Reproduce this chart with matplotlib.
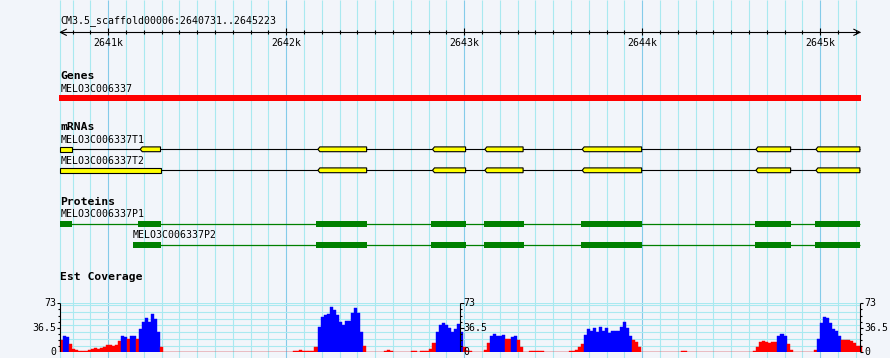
import matplotlib
matplotlib.use("Agg")
import matplotlib.pyplot as plt
from matplotlib.patches import Rectangle, Polygon

# ---- data -------------------------------------------------------------
ref_name = "CM3.5_scaffold00006"
start, end = 2640731, 2645223
major_ticks = [2641000, 2642000, 2643000, 2644000, 2645000]
major_labels = ["2641k", "2642k", "2643k", "2644k", "2645k"]

gene_names = ["MELO3C006337"]
gene_spans = [(2640731, 2645223)]

mrna_names = ["MELO3C006337T1", "MELO3C006337T2"]
mrna_exons = [
    [(2640731, 2640795), (2641180, 2641294), (2642178, 2642452), (2642822, 2643008),
     (2643116, 2643331), (2643663, 2643997), (2644639, 2644834), (2644976, 2645223)],
    [(2640731, 2641294), (2642178, 2642452), (2642822, 2643008),
     (2643116, 2643331), (2643663, 2643997), (2644639, 2644834), (2644976, 2645223)],
]

protein_names = ["MELO3C006337P1", "MELO3C006337P2"]
protein_cds = [
    [(2640731, 2640794), (2641167, 2641296), (2642167, 2642454), (2642813, 2643010),
     (2643111, 2643334), (2643656, 2643999), (2644634, 2644836), (2644971, 2645223)],
    [(2641139, 2641296), (2642167, 2642454), (2642813, 2643010),
     (2643111, 2643334), (2643656, 2643999), (2644634, 2644836), (2644971, 2645223)],
]

# est coverage, 17 bp bins from start
cov_bin = 17
cov_max = 73
cov = [
    18, 25, 23, 13, 5.5, 4, 1.5, 1.5, 1.5, 3, 5.5, 6, 5.5, 7, 8, 11, 10.5, 10, 11, 16.5,
    25, 23, 19.5, 25, 24, 20, 34, 45, 51, 45, 57, 49, 30, 8,
    0, 0, 0, 0, 0, 0, 0, 0, 0, 0, 0, 0, 0, 0, 0, 0, 0, 0, 0, 0, 0, 0, 0, 0, 0, 0,
    0, 0, 0, 0, 0, 0, 0, 0, 0, 0, 0, 0, 0, 0, 0, 0, 0,
    2, 2, 3.5, 2, 2, 1.5, 2, 8,
    38, 52, 55, 57, 68, 63, 56, 45, 41, 46, 47, 58, 66, 58, 30, 10, 1,
    0, 0, 0, 0, 0, 2, 3.5, 2, 0, 0, 0, 0, 0, 0, 1.5, 1.5, 0, 1.5, 1.5, 1.5, 5, 14,
    30, 40, 43, 40, 36, 30, 35, 42, 30, 8, 2, 2, 0, 0, 0, 0,
    3, 14, 24, 28, 24, 24, 26, 20, 20, 23, 25, 19, 8, 0, 0,
    1.5, 1.5, 1.5, 1.5, 1.5, 0, 0, 0, 0, 0, 0, 0, 0,
    1.5, 2, 4, 8, 12, 26, 34, 32, 36, 30, 37, 32, 36, 29, 31, 32, 31, 38, 45, 36, 25,
    19, 16, 8,
    0, 0, 0, 0, 0, 0, 0, 0, 0, 0, 0, 0, 0, 1.5, 1.5,
    0, 0, 0, 0, 0, 0, 0, 0, 0, 0, 0, 0, 0, 0, 0, 0, 0, 0, 0, 0, 0, 0,
    2, 8, 15, 17, 15, 14, 15, 16, 24, 27, 25, 12, 3,
    0, 0, 0, 0, 0, 0, 0,
    4, 20, 44, 52, 51, 44, 34, 31, 25, 19, 19, 18, 17, 14, 10, 10,
]
blue_bins = ([1, 2, 20, 21, 23, 24] + list(range(26, 33)) + list(range(85, 100))
             + list(range(124, 133)) + list(range(142, 147)) + [149, 150]
             + list(range(173, 189)) + [237, 238, 239] + list(range(250, 258)))
cov_ticks = [0, 36.5, 73]

# ---- layout / style -----------------------------------------------------
W, H = 890, 358
PX = 0.178                      # pixels per bp
xmin = start - 60.3 / PX
xmax = xmin + W / PX
bg = "#f2f5fa"
grid_minor = "#a9e9f0"
grid_major = "#84cbe9"
mono = "DejaVu Sans Mono"


def bp(px):
    return px / PX


fig = plt.figure(figsize=(W / 100, H / 100), dpi=100)
fig.patch.set_facecolor(bg)
ax = fig.add_axes([0, 0, 1, 1])
ax.set_xlim(xmin, xmax)
ax.set_ylim(H, 0)
ax.axis("off")

# vertical grid
ax.vlines([start], 0, H, color=grid_minor, lw=0.8, zorder=0)
for g in range(2640800, end, 100):
    ax.vlines(g, 0, H, color=grid_major if g % 1000 == 0 else grid_minor, lw=0.8, zorder=0)

# ruler
ax.text(start, 21, f"{ref_name}:{start}..{end}", family=mono, size=7.1, va="center")
ax.hlines(32.3, start, end, color="k", lw=0.8)
ax.plot([start + bp(6), start, start + bp(6)], [29.3, 32.3, 35.3], color="k", lw=0.8)
ax.plot([end - bp(6), end, end - bp(6)], [29.3, 32.3, 35.3], color="k", lw=0.8)
for t in range(2640800, end, 100):
    if t % 1000 == 0:
        ax.vlines(t, 28.3, 35.3, color="k", lw=0.8)
    else:
        ax.vlines(t, 30.3, 34.3, color="k", lw=0.8)
for t, lab in zip(major_ticks, major_labels):
    ax.text(t, 42.5, lab, family=mono, size=7.1, ha="center", va="center")

# genes
ax.text(start, 76, "Genes", family=mono, size=8.2, weight="bold", va="center")
for name, (s, e) in zip(gene_names, gene_spans):
    ax.text(s, 88.5, name, family=mono, size=7.1, va="center")
    ax.add_patch(Rectangle((s - bp(1), 95), e - s + bp(2), 5.7, color="#ff0000", lw=0))

# mRNAs
ax.text(start, 127.5, "mRNAs", family=mono, size=8.2, weight="bold", va="center")
for k, (name, exons) in enumerate(zip(mrna_names, mrna_exons)):
    y = 149.3 + 21 * k
    ax.text(exons[0][0], y - 9, name, family=mono, size=7.1, va="center")
    ax.hlines(y, exons[0][0], exons[-1][1], color="k", lw=0.8, zorder=2)
    for j, (s, e) in enumerate(exons):
        if j == 0:
            pts = [(s, y - 2.4), (e, y - 2.4), (e, y + 2.4), (s, y + 2.4)]
        else:
            pts = [(s, y), (s + bp(2), y - 2.4), (e, y - 2.4), (e, y + 2.4),
                   (s + bp(2), y + 2.4)]
        ax.add_patch(Polygon(pts, closed=True, facecolor="#ffff00", edgecolor="k",
                             lw=0.8, zorder=3))

# proteins
ax.text(start, 202, "Proteins", family=mono, size=8.2, weight="bold", va="center")
for k, (name, cds) in enumerate(zip(protein_names, protein_cds)):
    y = 223.7 + 21.3 * k
    ax.text(cds[0][0], y - 9.5, name, family=mono, size=7.1, va="center")
    ax.hlines(y, cds[0][0], cds[-1][1], color="#008000", lw=0.9, zorder=2)
    for s, e in cds:
        ax.add_patch(Rectangle((s, y - 3), e - s, 6, color="#008000", lw=0, zorder=3))

# est coverage
ax.text(start, 276.5, "Est Coverage", family=mono, size=8.2, weight="bold", va="center")
cax = fig.add_axes([0, (H - 352.3) / H, 1, 49 / H])
cax.set_xlim(xmin, xmax)
cax.set_ylim(0, cov_max)
cax.axis("off")
cax.patch.set_alpha(0)

for v in list(range(10, 80, 10)) + [cov_max]:
    if v <= cov_max:
        cax.hlines(v, start, end, color=grid_minor, lw=0.8, zorder=0)
cax.hlines(0, start, end, color=grid_major, lw=0.9, zorder=0)

lefts = [start + cov_bin * i for i in range(len(cov))]
colors = ["#0000ff" if i in blue_bins else "#ff0000" for i in range(len(cov))]
cax.bar(lefts, cov, width=cov_bin, align="edge", color=colors, edgecolor=colors,
        lw=0.3, zorder=2)

# scales: left, middle, right
mid = (start + end) / 2
minor = [cov_max * i / 8 for i in range(9)]
cax.vlines([start, mid, end], 0, cov_max, color="k", lw=0.8, zorder=4)
for m in minor:
    long_tick = m in cov_ticks
    L = bp(3.5 if long_tick else 2)
    cax.hlines(m, start - L, start, color="k", lw=0.8, zorder=4)
    cax.hlines(m, mid, mid + L, color="k", lw=0.8, zorder=4)
    cax.hlines(m, end, end + L, color="k", lw=0.8, zorder=4, clip_on=False)
for t in cov_ticks:
    lab = f"{t:g}"
    cax.text(start - bp(4), t, lab, family=mono, size=7.1, ha="right", va="center",
             clip_on=False)
    cax.text(mid + bp(3.5), t, lab, family=mono, size=7.1, ha="left", va="center",
             clip_on=False)
    cax.text(end + bp(4), t, lab, family=mono, size=7.1, ha="left", va="center",
             clip_on=False)

fig.savefig("out.png", dpi=100, facecolor=bg)
